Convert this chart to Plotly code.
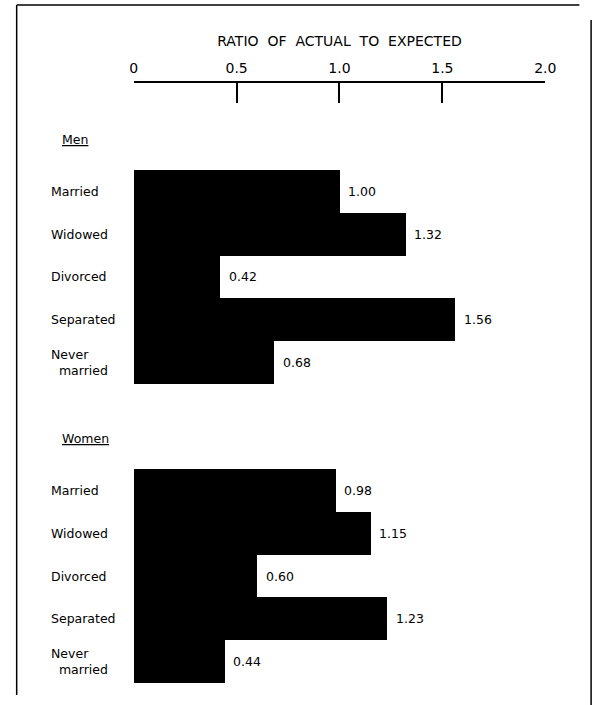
import plotly.graph_objects as go

W, H = 606, 705

categories = ["Married", "Widowed", "Divorced", "Separated", "Never<br>\u00a0\u00a0married"]
men_values = [1.00, 1.32, 0.42, 1.56, 0.68]
women_values = [0.98, 1.15, 0.60, 1.23, 0.44]
group_labels = ["Men", "Women"]
tick_vals = [0, 0.5, 1.0, 1.5, 2.0]
tick_text = ["0", "0.5", "1.0", "1.5", "2.0"]
axis_title = "RATIO\u00a0 OF\u00a0 ACTUAL\u00a0 TO\u00a0 EXPECTED"

men_pos = [0, 1, 2, 3, 4]
women_pos = [7, 8, 9, 10, 11]
header_pos = [-1.21, 5.79]

FONT = "DejaVu Sans"

fig = go.Figure()
fig.add_trace(go.Bar(x=men_values, y=men_pos, orientation="h", width=1.0,
                     marker=dict(color="black", line=dict(width=0)), showlegend=False,
                     hoverinfo="skip"))
fig.add_trace(go.Bar(x=women_values, y=women_pos, orientation="h", width=1.0,
                     marker=dict(color="black", line=dict(width=0)), showlegend=False,
                     hoverinfo="skip"))

ann = []
for pos_list, vals in ((men_pos, men_values), (women_pos, women_values)):
    for p, v, c in zip(pos_list, vals, categories):
        ann.append(dict(x=v, y=p, xref="x", yref="y", text=f"{v:.2f}", showarrow=False,
                        xanchor="left", yanchor="middle", xshift=7,
                        font=dict(family=FONT, size=12.5, color="black")))
        ann.append(dict(x=46 / W, y=p, xref="paper", yref="y", text=c, showarrow=False,
                        xanchor="left", yanchor="middle", align="left",
                        font=dict(family=FONT, size=12.5, color="black")))
for g, hp in zip(group_labels, header_pos):
    ann.append(dict(x=57 / W, y=hp, xref="paper", yref="y", text=f"<u>{g}</u>", showarrow=False,
                    xanchor="left", yanchor="middle",
                    font=dict(family=FONT, size=12.5, color="black")))

# vertical layout in pixels
px_per = 42.73
y0_px = 191.5
top_px = 83
p_top = (top_px - y0_px) / px_per
p_bot = (H - y0_px) / px_per

fig.update_layout(
    width=W, height=H,
    margin=dict(l=0, r=0, t=0, b=0),
    paper_bgcolor="white", plot_bgcolor="white",
    bargap=0,
    annotations=ann,
    xaxis=dict(domain=[133 / W, 555 / W], range=[0, 2], side="top",
               tickvals=tick_vals, ticktext=tick_text,
               ticks="inside", ticklen=20, tickwidth=1.5, tickcolor="black",
               showline=True, linecolor="black", linewidth=1.5,
               showgrid=False, zeroline=False, ticklabelstandoff=3,
               tickfont=dict(family=FONT, size=14, color="black"),
               title=dict(text=axis_title, standoff=10,
                          font=dict(family=FONT, size=14, color="black"))),
    yaxis=dict(domain=[0, (H - top_px) / H], range=[p_bot, p_top],
               showticklabels=False, showgrid=False, zeroline=False, showline=False,
               ticks=""),
    shapes=[
        dict(type="line", xref="paper", yref="paper", x0=13 / W, x1=13 / W, y0=10 / H, y1=1 - 5 / H,
             line=dict(color="black", width=1.5)),
        dict(type="line", xref="paper", yref="paper", x0=13 / W, x1=590 / W, y0=1 - 5 / H, y1=1 - 5 / H,
             line=dict(color="black", width=1.5)),
        dict(type="line", xref="paper", yref="paper", x0=602 / W, x1=602 / W, y0=0, y1=1 - 20 / H,
             line=dict(color="black", width=1.5)),
    ],
)

fig.write_html("out.html", config={"displayModeBar": False},
               post_script="document.body.style.margin='0';document.body.style.overflow='hidden';")
